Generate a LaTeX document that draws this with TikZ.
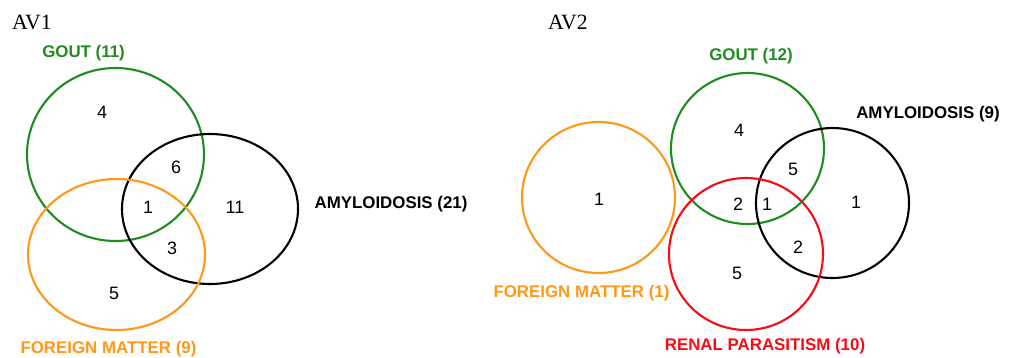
\documentclass[tikz,border=0pt]{standalone}
\usepackage{fontspec}
\setmainfont{Liberation Sans}
\newfontfamily\timesfont{Liberation Serif}
\definecolor{goutgreen}{RGB}{30,140,30}
\definecolor{fmorange}{RGB}{255,152,20}
\definecolor{rpred}{RGB}{250,10,20}
\tikzset{
  ring/.style={line width=0.6pt},
  setlabel/.style={font=\bfseries\fontsize{4.8}{5.5}\selectfont,inner sep=0pt},
  count/.style={font=\fontsize{5.1}{6}\selectfont,inner sep=0pt},
  paneltitle/.style={font=\timesfont\fontsize{6.2}{7}\selectfont,inner sep=0pt}
}
\begin{document}
\begin{tikzpicture}[line cap=round,line join=round,x=1.0cm,y=1.0cm]
	\useasboundingbox (0,0) rectangle (10.10,-3.58);
	% AV1
	\node[paneltitle] (avone) at (0.32,-0.22) {AV1};
	\draw [ring,color=goutgreen] (1.155,-1.545) ellipse (0.885 and 0.865);
	\draw [ring,color=black] (2.10,-2.09) ellipse (0.88 and 0.75);
	\draw [ring,color=fmorange] (1.165,-2.545) ellipse (0.885 and 0.755);
	\node[setlabel,text=goutgreen] (goutA) at (0.835,-0.53) {GOUT (11)};
	\node[setlabel,text=black] (amyA) at (3.91,-2.04) {AMYLOIDOSIS (21)};
	\node[setlabel,text=fmorange] (fmA) at (1.085,-3.49) {FOREIGN MATTER (9)};
	\node[count] (gA) at (1.02,-1.12) {4};
	\node[count] (gaA) at (1.76,-1.67) {6};
	\node[count] (gafA) at (1.48,-2.07) {1};
	\node[count] (aA) at (2.35,-2.07) {11};
	\node[count] (afA) at (1.72,-2.48) {3};
	\node[count] (fA) at (1.14,-2.93) {5};
	% AV2
	\node[paneltitle] (avtwo) at (5.68,-0.22) {AV2};
	\draw [ring,color=fmorange] (5.985,-1.975) ellipse (0.765 and 0.755);
	\draw [ring,color=goutgreen] (7.475,-1.485) ellipse (0.765 and 0.755);
	\draw [ring,color=black] (8.325,-2.03) ellipse (0.765 and 0.75);
	\draw [ring,color=rpred] (7.46,-2.54) ellipse (0.77 and 0.76);
	\node[setlabel,text=goutgreen] (goutB) at (7.51,-0.56) {GOUT (12)};
	\node[setlabel,text=black] (amyB) at (9.28,-1.14) {AMYLOIDOSIS (9)};
	\node[setlabel,text=fmorange] (fmB) at (5.815,-2.93) {FOREIGN MATTER (1)};
	\node[setlabel,text=rpred] (rpB) at (7.65,-3.46) {RENAL PARASITISM (10)};
	\node[count] (fB) at (5.99,-1.99) {1};
	\node[count] (gB) at (7.39,-1.30) {4};
	\node[count] (gaB) at (7.93,-1.69) {5};
	\node[count] (grB) at (7.38,-2.04) {2};
	\node[count] (garB) at (7.67,-2.04) {1};
	\node[count] (aB) at (8.56,-2.02) {1};
	\node[count] (arB) at (7.98,-2.47) {2};
	\node[count] (rB) at (7.37,-2.73) {5};
\end{tikzpicture}
\end{document}
